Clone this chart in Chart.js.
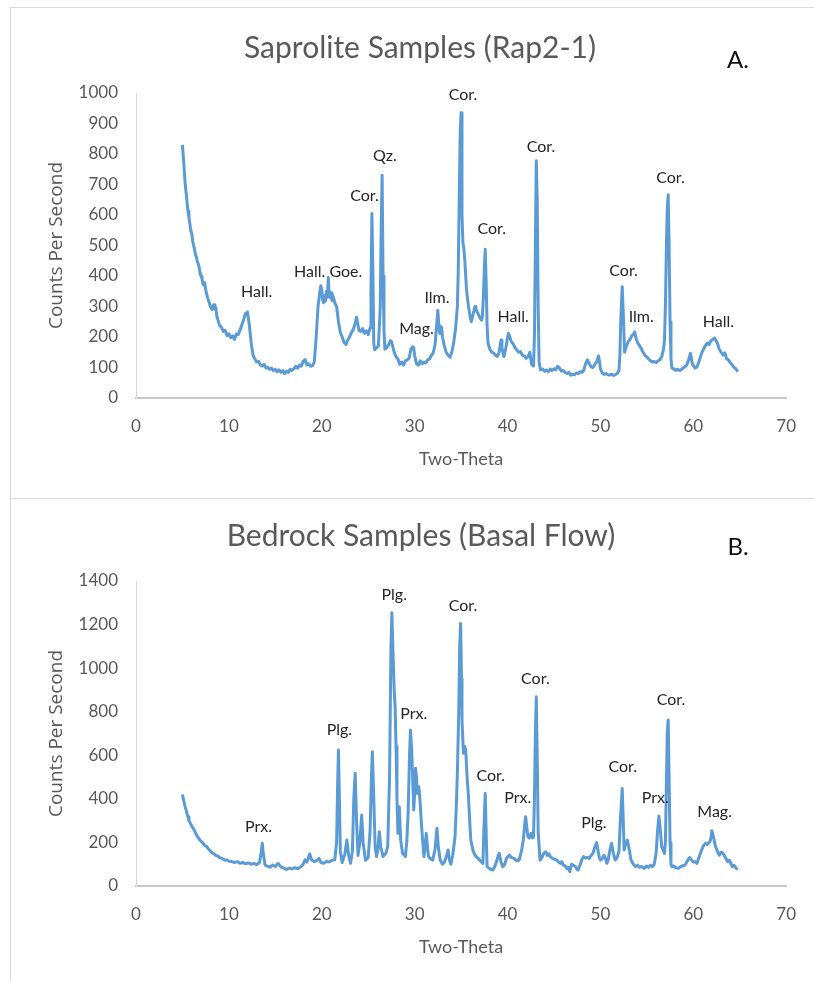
<!DOCTYPE html>
<html>
<head>
<meta charset="utf-8">
<script src="https://cdn.jsdelivr.net/npm/chart.js@4.4.0/dist/chart.umd.min.js"></script>
<style>
  body { margin: 0; background: #fff; }
  #page { position: relative; width: 814px; height: 981px; overflow: hidden; }
  .panel { position: absolute; left: 10px; width: 810px; border: 1px solid #d9d9d9; border-right: none; }
  #panelA { top: 7px; height: 490px; }
  #panelB { top: 498px; height: 482px; }
  canvas { position: absolute; left: 0; }
  #chartA { top: 0; }
  #chartB { top: 498px; }
  .title { position: absolute; transform: translate(-50%, -50%); font-family: Lato, sans-serif; font-size: 30px; color: #595959; white-space: nowrap; }
  .tag { position: absolute; transform: translate(-50%, -50%); font-family: Lato, sans-serif; font-size: 24px; color: #111; }
</style>
</head>
<body>
<div id="page">
  <div class="panel" id="panelA"></div>
  <div class="panel" id="panelB"></div>
  <canvas id="chartA" width="814" height="498"></canvas>
  <canvas id="chartB" width="814" height="483"></canvas>
  <div class="title" style="left:420px; top:46px;">Saprolite Samples (Rap2-1)</div>
  <div class="tag" style="left:738px; top:58px;">A.</div>
  <div class="title" style="left:421px; top:534px;">Bedrock Samples (Basal Flow)</div>
  <div class="tag" style="left:738px; top:545px;">B.</div>
</div>
<script>
// --- A. saprolite (Rap2-1) ---
var satTheta = [
  5.0, 5.1, 5.2, 5.3, 5.4, 5.5, 5.6, 5.7, 5.8, 5.9,
  6.0, 6.1, 6.2, 6.3, 6.4, 6.5, 6.6, 6.7, 6.8, 6.9,
  7.0, 7.1, 7.2, 7.3, 7.4, 7.5, 7.6, 7.7, 7.8, 7.9,
  8.0, 8.1, 8.2, 8.3, 8.4, 8.5, 8.6, 8.7, 8.8, 8.9,
  9.0, 9.2, 9.4, 9.6, 9.8, 10.0, 10.2, 10.4, 10.6, 10.8,
  11.0, 11.2, 11.4, 11.6, 11.8, 11.9, 12.0, 12.1, 12.2, 12.3,
  12.4, 12.5, 12.6, 12.8, 13.0, 13.2, 13.4, 13.6, 13.8, 14.0,
  14.2, 14.4, 14.6, 14.8, 15.0, 15.2, 15.4, 15.6, 15.8, 16.0,
  16.2, 16.4, 16.6, 16.8, 17.0, 17.2, 17.4, 17.6, 17.8, 18.0,
  18.2, 18.4, 18.6, 18.8, 19.0, 19.2, 19.4, 19.6, 19.8, 19.9,
  20.0, 20.1, 20.2, 20.3, 20.4, 20.5, 20.6, 20.7, 20.8, 20.9,
  21.0, 21.1, 21.2, 21.3, 21.4, 21.6, 21.8, 22.0, 22.2, 22.4,
  22.6, 22.8, 23.0, 23.2, 23.4, 23.6, 23.75, 23.9, 24.0, 24.2,
  24.4, 24.6, 24.8, 25.0, 25.2, 25.3, 25.4, 25.5, 25.6, 25.7,
  25.9, 26.1, 26.3, 26.4, 26.5, 26.6, 26.7, 26.8, 27.0, 27.2,
  27.4, 27.5, 27.6, 27.8, 28.0, 28.2, 28.4, 28.6, 28.8, 29.0,
  29.2, 29.4, 29.6, 29.8, 29.9, 30.0, 30.2, 30.4, 30.6, 30.8,
  31.0, 31.2, 31.4, 31.6, 31.8, 32.0, 32.2, 32.4, 32.5, 32.6,
  32.7, 32.8, 32.9, 33.0, 33.2, 33.4, 33.6, 33.8, 34.0, 34.2,
  34.4, 34.6, 34.7, 34.8, 34.9, 35.0, 35.1, 35.2, 35.3, 35.4,
  35.5, 35.6, 35.8, 36.0, 36.1, 36.3, 36.5, 36.6, 36.8, 37.0,
  37.2, 37.3, 37.4, 37.5, 37.6, 37.7, 37.8, 37.9, 38.1, 38.3,
  38.5, 38.7, 38.9, 39.1, 39.3, 39.4, 39.6, 39.8, 40.0, 40.1,
  40.2, 40.4, 40.6, 40.8, 41.0, 41.2, 41.4, 41.6, 41.8, 42.0,
  42.2, 42.4, 42.6, 42.8, 42.9, 43.0, 43.1, 43.2, 43.3, 43.4,
  43.55, 43.8, 44.0, 44.2, 44.4, 44.6, 44.8, 45.0, 45.2, 45.4,
  45.6, 45.8, 46.0, 46.2, 46.4, 46.6, 46.8, 47.0, 47.2, 47.4,
  47.6, 47.8, 48.0, 48.2, 48.4, 48.6, 48.8, 49.0, 49.2, 49.4,
  49.6, 49.8, 49.9, 50.0, 50.2, 50.4, 50.6, 50.8, 51.0, 51.2,
  51.4, 51.6, 51.8, 52.0, 52.1, 52.2, 52.35, 52.5, 52.6, 52.8,
  53.0, 53.2, 53.4, 53.6, 53.7, 53.8, 54.0, 54.2, 54.4, 54.6,
  54.8, 55.0, 55.2, 55.4, 55.6, 55.8, 56.0, 56.2, 56.4, 56.6,
  56.8, 56.9, 57.0, 57.1, 57.2, 57.3, 57.4, 57.5, 57.6, 57.7,
  57.9, 58.1, 58.3, 58.6, 58.8, 59.0, 59.3, 59.5, 59.7, 59.9,
  60.2, 60.4, 60.6, 60.9, 61.1, 61.3, 61.5, 61.7, 61.9, 62.1,
  62.3, 62.5, 62.6, 62.8, 63.0, 63.2, 63.4, 63.6, 63.8, 64.0,
  64.2, 64.4, 64.6, 64.8
];
var satCounts = [
  830, 790, 745, 700, 672, 640, 612, 590, 572, 548,
  540, 515, 500, 488, 470, 462, 448, 440, 428, 410,
  400, 392, 375, 370, 378, 355, 342, 330, 320, 312,
  300, 295, 290, 302, 306, 292, 296, 268, 258, 248,
  238, 232, 218, 222, 205, 210, 198, 204, 192, 210,
  208, 222, 240, 258, 278, 272, 282, 262, 240, 210,
  182, 160, 140, 128, 118, 120, 108, 105, 110, 98,
  100, 94, 98, 90, 94, 86, 92, 84, 90, 80,
  88, 84, 94, 90, 96, 104, 98, 108, 104, 120,
  126, 108, 112, 104, 106, 118, 200, 300, 350, 368,
  355, 320, 312, 335, 318, 350, 330, 395, 340, 330,
  345, 320, 335, 325, 312, 300, 250, 215, 200, 182,
  175, 190, 200, 215, 225, 245, 265, 240, 222, 218,
  228, 212, 220, 208, 230, 350, 605, 420, 180, 158,
  165, 170, 300, 560, 730, 400, 220, 160, 165, 175,
  188, 185, 175, 150, 135, 128, 110, 118, 108, 122,
  125, 130, 160, 168, 165, 140, 112, 108, 122, 112,
  118, 115, 125, 128, 140, 148, 175, 250, 288, 240,
  212, 235, 230, 200, 170, 150, 140, 134, 150, 180,
  225, 300, 420, 650, 860, 935, 600, 508, 490, 452,
  400, 350, 300, 262, 250, 275, 300, 290, 278, 265,
  255, 268, 330, 420, 488, 380, 240, 180, 160, 150,
  148, 140, 136, 150, 190, 165, 136, 160, 198, 212,
  205, 185, 178, 165, 158, 150, 152, 140, 138, 130,
  135, 150, 110, 105, 200, 500, 778, 650, 300, 120,
  92, 95, 88, 92, 86, 95, 90, 96, 92, 104,
  98, 88, 90, 84, 80, 84, 75, 78, 76, 82,
  80, 86, 84, 90, 112, 125, 112, 102, 100, 110,
  118, 138, 120, 96, 82, 78, 80, 76, 75, 78,
  74, 76, 80, 90, 140, 260, 365, 250, 150, 170,
  185, 192, 205, 210, 217, 200, 182, 172, 162, 150,
  140, 135, 128, 122, 118, 120, 116, 122, 125, 135,
  160, 190, 300, 480, 620, 666, 500, 250, 130, 98,
  96, 90, 94, 90, 96, 100, 108, 125, 147, 112,
  98, 102, 118, 147, 160, 172, 180, 175, 188, 192,
  197, 185, 180, 160, 150, 141, 148, 128, 125, 115,
  108, 100, 95, 86
];
var satLabels = ['Hall.', 'Hall.', 'Goe.', 'Cor.', 'Qz.', 'Mag.', 'Ilm.', 'Cor.', 'Cor.', 'Hall.', 'Cor.', 'Cor.', 'Ilm.', 'Cor.', 'Hall.'];
var satLabelTheta = [13.0, 18.7, 22.6, 24.6, 26.8, 30.2, 32.4, 35.2, 38.3, 40.6, 43.6, 52.5, 54.4, 57.55, 62.7];
var satLabelCounts = [348, 415, 415, 662, 793, 228, 328, 993, 556, 267, 824, 417, 267, 722, 250];

// --- B. bedrock (basal flow) ---
var bedTheta = [
  5.0, 5.1, 5.2, 5.3, 5.4, 5.5, 5.6, 5.7, 5.8, 5.9,
  6.0, 6.2, 6.4, 6.6, 6.8, 7.0, 7.2, 7.4, 7.6, 7.8,
  8.0, 8.2, 8.4, 8.6, 8.8, 9.0, 9.2, 9.4, 9.6, 9.8,
  10.0, 10.3, 10.6, 10.9, 11.2, 11.5, 11.8, 12.1, 12.4, 12.7,
  13.0, 13.3, 13.5, 13.6, 13.7, 13.9, 14.1, 14.4, 14.7, 15.0,
  15.3, 15.6, 15.9, 16.2, 16.5, 16.8, 17.1, 17.4, 17.7, 18.0,
  18.2, 18.4, 18.7, 18.9, 19.2, 19.5, 19.7, 19.9, 20.2, 20.5,
  20.8, 21.1, 21.4, 21.6, 21.7, 21.8, 21.9, 22.0, 22.2, 22.5,
  22.7, 22.9, 23.1, 23.3, 23.45, 23.6, 23.75, 23.9, 24.1, 24.3,
  24.45, 24.7, 25.0, 25.2, 25.35, 25.45, 25.6, 25.75, 25.9, 26.05,
  26.2, 26.35, 26.6, 26.9, 27.1, 27.3, 27.45, 27.55, 27.65, 27.8,
  27.9, 28.0, 28.1, 28.2, 28.35, 28.5, 28.7, 29.0, 29.15, 29.3,
  29.45, 29.55, 29.65, 29.75, 29.9, 30.0, 30.1, 30.2, 30.3, 30.45,
  30.6, 30.75, 31.0, 31.1, 31.25, 31.4, 31.5, 31.7, 31.95, 32.2,
  32.4, 32.55, 32.75, 33.0, 33.2, 33.45, 33.6, 33.75, 33.9, 34.1,
  34.35, 34.5, 34.6, 34.75, 34.85, 34.95, 35.05, 35.1, 35.25, 35.4,
  35.5, 35.65, 35.8, 35.95, 36.05, 36.3, 36.5, 36.75, 37.0, 37.2,
  37.35, 37.45, 37.6, 37.7, 37.8, 38.0, 38.2, 38.4, 38.6, 38.8,
  39.0, 39.1, 39.3, 39.5, 39.7, 39.9, 40.2, 40.45, 40.7, 41.0,
  41.25, 41.5, 41.7, 41.85, 41.95, 42.05, 42.2, 42.35, 42.55, 42.7,
  42.8, 42.9, 43.0, 43.1, 43.2, 43.3, 43.5, 43.7, 43.9, 44.1,
  44.3, 44.45, 44.6, 44.8, 45.0, 45.3, 45.5, 45.7, 45.85, 46.0,
  46.2, 46.4, 46.55, 46.7, 46.9, 47.1, 47.3, 47.45, 47.6, 47.8,
  48.0, 48.2, 48.4, 48.6, 48.8, 49.0, 49.2, 49.4, 49.6, 49.75,
  49.9, 50.0, 50.2, 50.35, 50.5, 50.7, 50.85, 51.0, 51.2, 51.4,
  51.6, 51.8, 52.0, 52.15, 52.35, 52.5, 52.55, 52.7, 52.9, 53.1,
  53.3, 53.55, 53.8, 54.0, 54.2, 54.45, 54.7, 54.95, 55.2, 55.4,
  55.6, 55.8, 56.0, 56.15, 56.3, 56.45, 56.6, 56.75, 56.9, 57.0,
  57.1, 57.2, 57.3, 57.4, 57.5, 57.6, 57.7, 57.9, 58.1, 58.4,
  58.6, 58.8, 59.1, 59.3, 59.6, 59.8, 60.0, 60.2, 60.4, 60.6,
  60.9, 61.1, 61.3, 61.5, 61.8, 61.9, 62.0, 62.15, 62.3, 62.4,
  62.6, 62.8, 63.0, 63.2, 63.4, 63.7, 63.9, 64.2, 64.4, 64.6,
  64.8
];
var bedCounts = [
  420, 400, 380, 362, 348, 330, 318, 300, 292, 284,
  275, 262, 245, 228, 215, 205, 198, 185, 182, 170,
  160, 152, 148, 140, 138, 130, 128, 124, 118, 120,
  114, 112, 108, 112, 104, 108, 102, 106, 100, 104,
  98, 108, 160, 196, 150, 96, 92, 86, 96, 90,
  104, 88, 82, 76, 82, 78, 84, 80, 86, 100,
  120, 110, 147, 120, 112, 118, 127, 108, 104, 112,
  110, 118, 120, 200, 450, 624, 400, 160, 108, 150,
  211, 140, 104, 160, 400, 517, 300, 140, 200, 326,
  200, 118, 130, 250, 500, 616, 400, 180, 135, 170,
  249, 180, 135, 150, 180, 500, 1100, 1254, 1100, 900,
  820, 639, 400, 242, 364, 211, 150, 135, 200, 334,
  600, 716, 650, 548, 349, 420, 540, 500, 425, 456,
  380, 272, 135, 170, 242, 170, 135, 125, 119, 170,
  265, 180, 119, 100, 108, 140, 165, 120, 100, 140,
  226, 380, 517, 800, 1100, 1205, 950, 762, 609, 640,
  624, 500, 410, 280, 211, 160, 142, 130, 119, 110,
  104, 250, 425, 250, 89, 82, 76, 73, 86, 110,
  140, 150, 110, 89, 100, 128, 142, 130, 127, 115,
  119, 160, 211, 280, 318, 280, 226, 220, 242, 220,
  226, 400, 700, 869, 600, 250, 119, 130, 150, 157,
  140, 148, 135, 128, 124, 119, 110, 104, 112, 96,
  92, 80, 86, 66, 100, 95, 89, 78, 73, 95,
  120, 135, 128, 132, 127, 140, 150, 180, 199, 160,
  130, 119, 125, 140, 135, 104, 120, 160, 196, 150,
  119, 130, 160, 300, 448, 250, 165, 190, 211, 170,
  119, 100, 89, 95, 86, 90, 81, 92, 86, 95,
  89, 100, 150, 250, 321, 260, 180, 165, 150, 200,
  450, 700, 762, 500, 200, 100, 89, 92, 84, 81,
  88, 92, 96, 110, 131, 120, 110, 112, 104, 130,
  165, 185, 196, 190, 204, 220, 254, 230, 200, 180,
  160, 142, 155, 150, 135, 112, 118, 89, 95, 82,
  76
];
var bedLabels = ['Prx.', 'Plg.', 'Plg.', 'Prx.', 'Cor.', 'Cor.', 'Prx.', 'Cor.', 'Plg.', 'Cor.', 'Prx.', 'Cor.', 'Mag.'];
var bedLabelTheta = [13.2, 21.9, 27.8, 29.9, 35.2, 38.2, 41.1, 43.0, 49.3, 52.4, 55.9, 57.6, 62.3];
var bedLabelCounts = [272, 715, 1335, 789, 1284, 507, 405, 950, 289, 547, 405, 853, 341];

var xTicks = { min: 0, max: 70, step: 10 };

var peakLabels = {
  id: 'peakLabels',
  afterDatasetsDraw: function(chart, args, opts) {
    var ctx = chart.ctx;
    ctx.save();
    ctx.font = '16px Lato, sans-serif';
    ctx.fillStyle = '#262626';
    ctx.textAlign = 'center';
    ctx.textBaseline = 'middle';
    for (var i = 0; i < opts.text.length; i++) {
      ctx.fillText(opts.text[i],
        chart.scales.x.getPixelForValue(opts.x[i]),
        chart.scales.y.getPixelForValue(opts.y[i]));
    }
    ctx.restore();
  }
};

function plainTick(v) { return String(v); }

function drawXrd(id, theta, counts, yMax, yStep, labels, lx, ly, padTop, padBottom) {
  var points = theta.map(function(t, i) { return { x: t, y: counts[i] }; });
  return new Chart(document.getElementById(id), {
    type: 'line',
    data: {
      datasets: [{
        data: points,
        borderColor: '#5b9bd5',
        borderWidth: 3,
        borderJoinStyle: 'round',
        pointRadius: 0,
        tension: 0,
        fill: false
      }]
    },
    options: {
      responsive: false,
      animation: false,
      layout: { padding: { left: 45, right: 19, top: padTop, bottom: padBottom } },
      plugins: {
        legend: { display: false },
        tooltip: { enabled: false },
        peakLabels: { text: labels, x: lx, y: ly }
      },
      scales: {
        x: {
          type: 'linear',
          min: xTicks.min,
          max: xTicks.max,
          ticks: { stepSize: xTicks.step, callback: plainTick, color: '#595959', font: { family: 'Lato', size: 17 }, padding: 18, maxRotation: 0 },
          grid: { display: false, drawTicks: false },
          border: { display: true, color: '#c8c8c8', width: 2 },
          title: { display: true, text: 'Two-Theta', color: '#595959', font: { family: 'Lato', size: 18 }, padding: 0 },
          afterFit: function(s) { s.height = 72; }
        },
        y: {
          min: 0,
          max: yMax,
          ticks: { stepSize: yStep, callback: plainTick, color: '#595959', font: { family: 'Lato', size: 17 }, padding: 18 },
          grid: { display: false, drawTicks: false },
          border: { display: true, color: '#d9d9d9', width: 1 },
          title: { display: true, text: 'Counts Per Second', color: '#595959', font: { family: 'Open Sans', size: 19 }, padding: 0 },
          afterFit: function(s) { s.width = 91; }
        }
      }
    },
    plugins: [peakLabels]
  });
}

drawXrd('chartA', satTheta, satCounts, 1000, 100, satLabels, satLabelTheta, satLabelCounts, 93, 28);
drawXrd('chartB', bedTheta, bedCounts, 1400, 200, bedLabels, bedLabelTheta, bedLabelCounts, 83, 23);
</script>
</body>
</html>
